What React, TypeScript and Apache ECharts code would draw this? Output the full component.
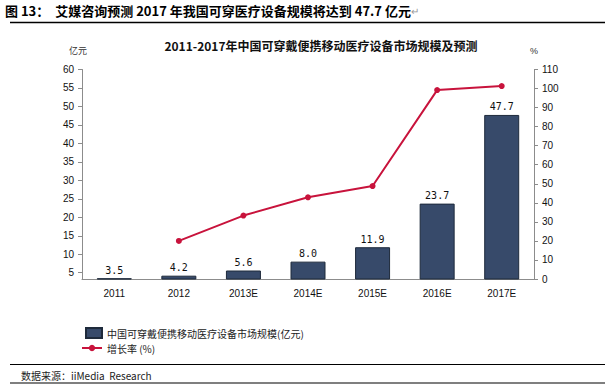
import React, { useEffect, useRef } from "react";
import * as echarts from "echarts";

const categories = ["2011", "2012", "2013E", "2014E", "2015E", "2016E", "2017E"];
const marketSize = [3.5, 4.2, 5.6, 8.0, 11.9, 23.7, 47.7];
const growthRate: (number | string)[] = ["-", 20.0, 33.3, 42.9, 48.8, 99.2, 101.3];
const leftTicks = [5, 10, 15, 20, 25, 30, 35, 40, 45, 50, 55, 60];
const rightTicks = [0, 10, 20, 30, 40, 50, 60, 70, 80, 90, 100, 110];

const barName = "中国可穿戴便携移动医疗设备市场规模(亿元)";
const lineName = "增长率 (%)";
const headerText = "图 13：  艾媒咨询预测 2017 年我国可穿医疗设备规模将达到 47.7 亿元";
const chartTitle = "2011-2017年中国可穿戴便携移动医疗设备市场规模及预测";
const sourceText = "数据来源：iiMedia  Research";

const CJK = '"Noto Sans CJK SC", "Liberation Sans", sans-serif';
const LAT = '"Liberation Sans", Arial, sans-serif';

export default function App() {
  const ref = useRef<HTMLDivElement>(null);
  useEffect(() => {
    if (!ref.current) return;
    const chart = echarts.init(ref.current, null, { renderer: "svg" });
    const axisGray = "#8c8c8c";
    chart.setOption({
      animation: false,
      backgroundColor: "#ffffff",
      title: {
        text: chartTitle,
        left: 316,
        textAlign: "center",
        top: 34,
        textStyle: { fontFamily: CJK, fontSize: 12, fontWeight: "bold", color: "#111" },
      },
      legend: [
        {
          data: [{ name: barName, icon: "rect" }],
          left: 85,
          top: 327,
          padding: 0,
          itemWidth: 16,
          itemHeight: 10,
          textStyle: { fontFamily: CJK, fontSize: 10, color: "#222" },
        },
        {
          data: [lineName],
          left: 81,
          top: 343,
          padding: 0,
          itemWidth: 20,
          itemHeight: 8,
          textStyle: { fontFamily: CJK, fontSize: 10, color: "#222" },
        },
      ],
      grid: { left: 82, right: 71, top: 69.5, bottom: 110, containLabel: false },
      xAxis: {
        type: "category",
        data: categories,
        axisLine: { lineStyle: { color: axisGray, width: 1 } },
        axisTick: { show: false },
        axisLabel: { fontFamily: LAT, fontSize: 10, color: "#111", margin: 9 },
      },
      yAxis: [
        {
          type: "value",
          min: 3.3,
          max: 60,
          splitLine: { show: false },
          axisLine: { show: true, lineStyle: { color: axisGray } },
          axisTick: { show: true, length: 4, customValues: leftTicks, lineStyle: { color: axisGray } },
          axisLabel: { customValues: leftTicks, fontFamily: LAT, fontSize: 10, color: "#111", margin: 8 },
        },
        {
          type: "value",
          min: 0,
          max: 110,
          interval: 10,
          splitLine: { show: false },
          axisLine: { show: true, lineStyle: { color: axisGray } },
          axisTick: { show: true, length: 4, customValues: rightTicks, lineStyle: { color: axisGray } },
          axisLabel: { customValues: rightTicks, fontFamily: LAT, fontSize: 10, color: "#111", margin: 8 },
        },
      ],
      series: [
        {
          name: barName,
          type: "bar",
          yAxisIndex: 0,
          data: marketSize,
          barWidth: 35,
          barMinHeight: 1,
          itemStyle: { color: "#374a6a", borderColor: "#1e2a3b", borderWidth: 1 },
          label: {
            show: true,
            position: "top",
            distance: 3,
            formatter: (p: any) => p.value.toFixed(1),
            fontFamily: '"DejaVu Sans Mono", monospace',
            fontSize: 10,
            color: "#111",
          },
        },
        {
          name: lineName,
          type: "line",
          yAxisIndex: 1,
          data: growthRate,
          symbol: "circle",
          symbolSize: 6,
          lineStyle: { color: "#c8133c", width: 2 },
          itemStyle: { color: "#c8133c" },
        },
      ],
      graphic: [
        {
          type: "text",
          left: 5,
          top: 4,
          style: {
            text: headerText + "{r|↵}",
            fontFamily: CJK,
            fontSize: 13,
            fontWeight: "bold",
            fill: "#000",
            rich: { r: { fontFamily: CJK, fontSize: 10, fill: "#999", fontWeight: "normal" } },
          },
        },
        { type: "line", shape: { x1: 10, y1: 22.5, x2: 605, y2: 22.5 }, style: { stroke: "#000", lineWidth: 1.5 } },
        {
          type: "text",
          left: 69,
          top: 46,
          style: { text: "亿元", fontFamily: CJK, fontSize: 9, fill: "#333" },
        },
        {
          type: "text",
          left: 530,
          top: 46,
          style: { text: "%", fontFamily: LAT, fontSize: 9, fill: "#333" },
        },
        { type: "line", shape: { x1: 10, y1: 364.5, x2: 605, y2: 364.5 }, style: { stroke: "#000", lineWidth: 1.2 } },
        {
          type: "text",
          left: 21,
          top: 370,
          style: { text: sourceText, fontFamily: CJK, fontSize: 10, fill: "#222" },
        },
        { type: "line", shape: { x1: 10, y1: 383, x2: 605, y2: 383 }, style: { stroke: "#000", lineWidth: 1.2 } },
      ],
    });
    return () => chart.dispose();
  }, []);
  return <div ref={ref} style={{ width: 605, height: 389, position: "absolute", left: 0, top: 0 }} />;
}
